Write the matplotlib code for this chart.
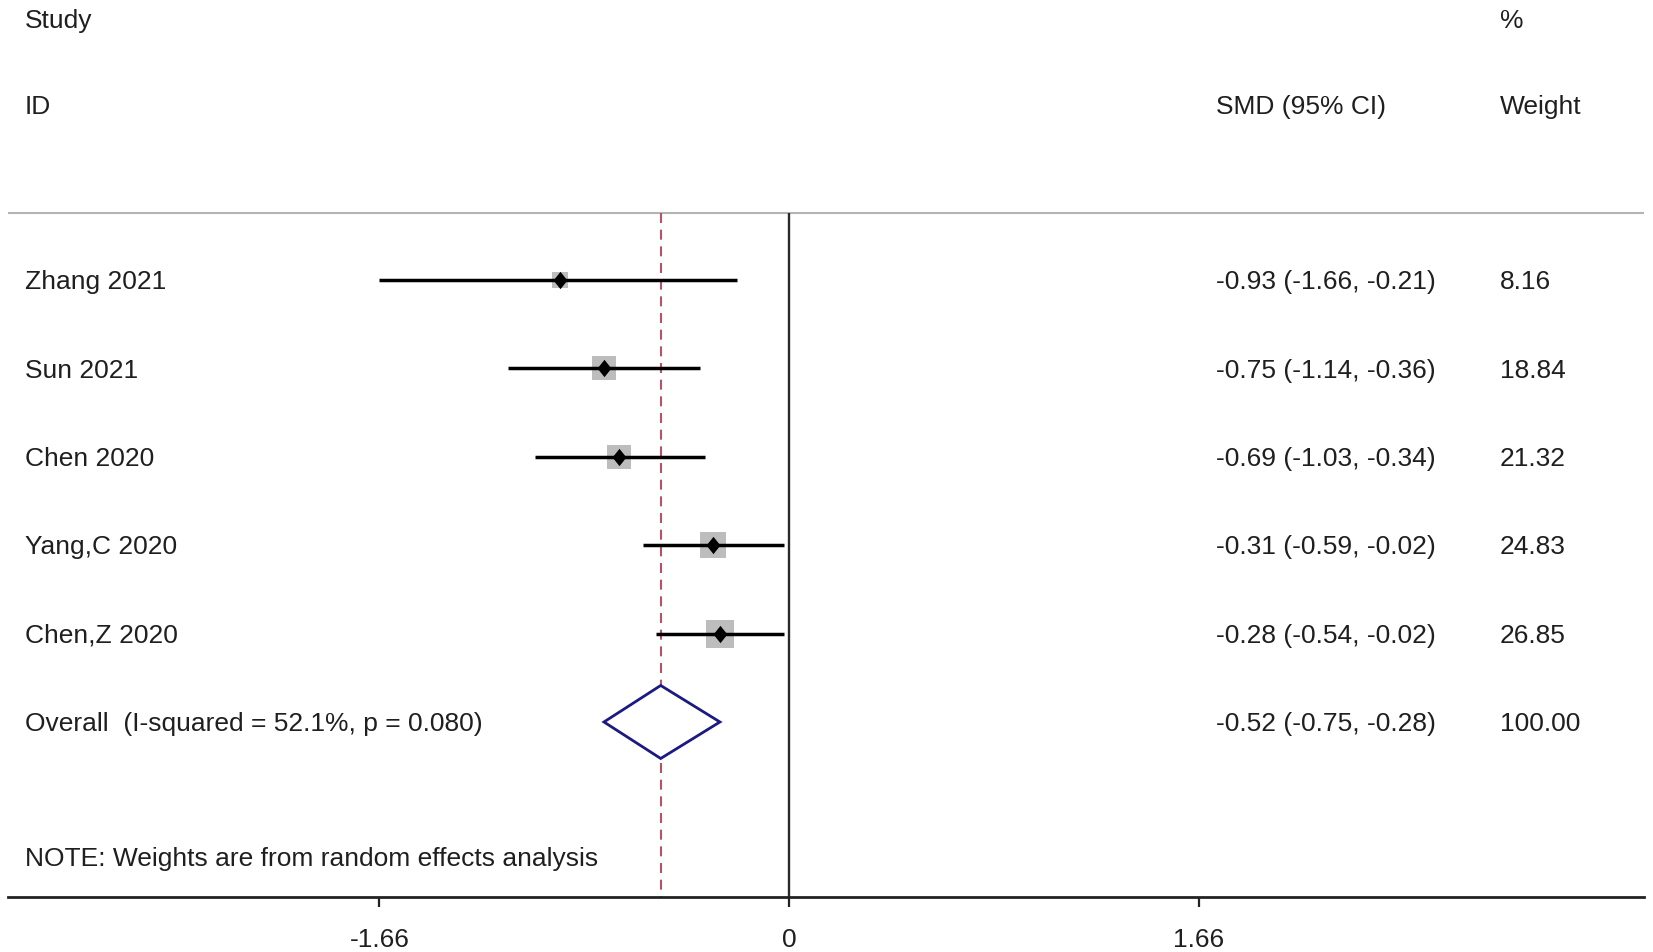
import matplotlib.pyplot as plt

plt.rcParams['font.family'] = ['Liberation Sans', 'DejaVu Sans']

studies = ['Zhang 2021', 'Sun 2021', 'Chen 2020', 'Yang,C 2020', 'Chen,Z 2020']
smd = [-0.93, -0.75, -0.69, -0.31, -0.28]
ci_low = [-1.66, -1.14, -1.03, -0.59, -0.54]
ci_high = [-0.21, -0.36, -0.34, -0.02, -0.02]
weights = [8.16, 18.84, 21.32, 24.83, 26.85]

overall_label = 'Overall  (I-squared = 52.1%, p = 0.080)'
overall_smd = -0.52
overall_low = -0.75
overall_high = -0.28
overall_weight = 100.00

note = 'NOTE: Weights are from random effects analysis'
tick_values = [-1.66, 0, 1.66]

TEXT = '#1f1f1f'
FS = 19

# slightly tall diamond for the point estimates
point_marker = [(0, 1), (0.8, 0), (0, -1), (-0.8, 0), (0, 1)]

fig = plt.figure(figsize=(16.53, 9.52), dpi=100)
ax = fig.add_axes([0, 0, 1, 1])
ax.set_xlim(-3.198, 3.502)
ax.set_ylim(7.602, -3.167)
ax.set_facecolor('white')

for s in ['top', 'left', 'right']:
    ax.spines[s].set_visible(False)
ax.spines['bottom'].set_position(('data', 6.98))
ax.spines['bottom'].set_bounds(-3.164, 3.466)
ax.spines['bottom'].set_linewidth(2.0)
ax.spines['bottom'].set_color('#222222')
ax.set_yticks([])
ax.set_xticks(tick_values, ['-1.66', '0', '1.66'])
ax.tick_params(axis='x', direction='out', length=7.5, width=1.6,
               color='#222222', pad=15, labelsize=FS, labelcolor=TEXT)

# header / separator
sep_row = -0.76
ax.hlines(sep_row, -3.164, 3.466, color='#b4b4b4', lw=1.5)
ax.vlines(0, sep_row, 6.98, color='#2a2a2a', lw=1.7)
ax.vlines(overall_smd, sep_row, 6.98, color='#b55466', lw=1.5,
          linestyles=(0, (4.8, 3.2)))

off = 0.104  # baseline offset so text is centred on the row
col_study, col_smd, col_w = -3.097, 1.731, 2.882
ax.text(col_study, -2.95 + off, 'Study', fontsize=FS, color=TEXT, va='baseline')
ax.text(col_study, -1.98 + off, 'ID', fontsize=FS, color=TEXT, va='baseline')
ax.text(col_smd, -1.98 + off, 'SMD (95% CI)', fontsize=FS, color=TEXT, va='baseline')
ax.text(col_w, -2.95 + off, '%', fontsize=FS, color=TEXT, va='baseline')
ax.text(col_w, -1.98 + off, 'Weight', fontsize=FS, color=TEXT, va='baseline')

for i, (name, es, lo, hi, w) in enumerate(zip(studies, smd, ci_low, ci_high, weights)):
    side = (4.0 + 4.44 * w ** 0.5) * 0.72
    ax.plot(es, i, 's', ms=side, color='#bdbdbd', mew=0, zorder=2)
    ax.hlines(i, lo, hi, color='black', lw=2.5, zorder=3)
    ax.plot(es, i, marker=point_marker, ms=12.5, color='black', mew=0, zorder=4)
    ax.text(col_study, i + off, name, fontsize=FS, color=TEXT, va='baseline')
    ax.text(col_smd, i + off, f'{es:.2f} ({lo:.2f}, {hi:.2f})', fontsize=FS,
            color=TEXT, va='baseline')
    ax.text(col_w, i + off, f'{w:.2f}', fontsize=FS, color=TEXT, va='baseline')

row = len(studies)
h = 0.413
ax.fill([overall_low, overall_smd, overall_high, overall_smd],
        [row, row - h, row, row + h], facecolor='white', edgecolor='#1a1a80',
        lw=2.0, zorder=5)
ax.text(col_study, row + off, overall_label, fontsize=FS, color=TEXT, va='baseline')
ax.text(col_smd, row + off,
        f'{overall_smd:.2f} ({overall_low:.2f}, {overall_high:.2f})',
        fontsize=FS, color=TEXT, va='baseline')
ax.text(col_w, row + off, f'{overall_weight:.2f}', fontsize=FS, color=TEXT, va='baseline')

ax.text(col_study, 6.52 + off, note, fontsize=FS, color=TEXT, va='baseline')

fig.savefig('out.png', dpi=100, facecolor='white')
